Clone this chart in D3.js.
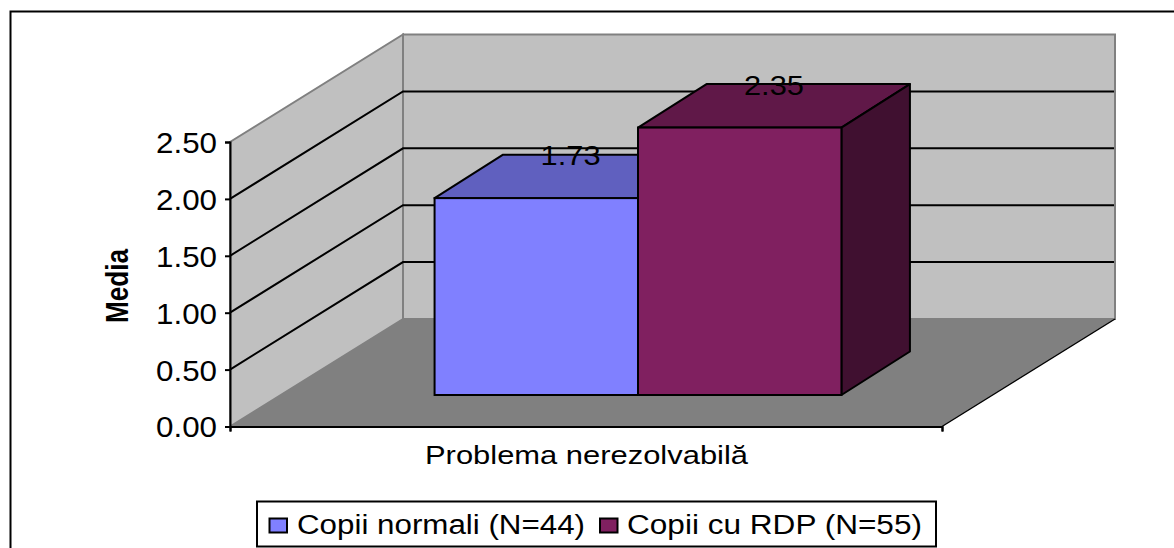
<!DOCTYPE html>
<html>
<head>
<meta charset="utf-8">
<title>Problema nerezolvabilă</title>
<script src="https://cdn.jsdelivr.net/npm/d3@7"></script>
<style>
  html, body { margin: 0; padding: 0; background: #fff; overflow: hidden; }
  svg { display: block; }
  text { font-family: "Liberation Sans", Arial, sans-serif; fill: #000; }
</style>
</head>
<body>
<svg id="chart" width="1174" height="548"></svg>
<script>
const categories = ["Problema nerezolvabilă"];
const seriesNames = ["Copii normali (N=44)", "Copii cu RDP (N=55)"];
const seriesValues = [1.73, 2.35];
const yTicks = [0, 0.5, 1, 1.5, 2, 2.5];
const yTitle = "Media";

const FACE_COLORS = ["#8080ff", "#802060"];
const TOP_COLORS = ["#6060bf", "#601848"];
const SIDE_COLORS = ["#404080", "#401030"];

// full depth of the floor, and where the bars sit inside it
const DEPTH = { x: 173, y: -107.5 };
const BAR_SHIFT = { x: 52, y: -31.5 };
const BAR_DEPTH = { x: 68.5, y: -43.5 };

const svg = d3.select("#chart");

const y = d3.scaleLinear().domain([0, 2.5]).range([426.5, 142]);
const xCat = d3.scaleBand().domain(categories).range([230, 942]);
const xSeries = d3
  .scaleBand()
  .domain(seriesNames)
  .range(xCat.range())
  .paddingInner(0)
  .paddingOuter(0.75);

const line = d3.line();
const [x0, x1] = xCat.range();
const y0 = y(0);
const yTop = y(2.5);

// Chart frame, runs off the right and bottom of the picture
svg.append("rect")
  .attr("x", 10.5)
  .attr("y", 11.5)
  .attr("width", 1300)
  .attr("height", 700)
  .attr("fill", "none")
  .attr("stroke", "#000")
  .attr("stroke-width", 2);

// Walls
svg.append("path")
  .attr("d", line([[x0, y0], [x0, yTop], [x0 + DEPTH.x, yTop + DEPTH.y], [x0 + DEPTH.x, y0 + DEPTH.y]]) + "Z")
  .attr("fill", "#c0c0c0")
  .attr("stroke", "#808080")
  .attr("stroke-width", 2);

svg.append("path")
  .attr("d", line([[x0 + DEPTH.x, yTop + DEPTH.y], [x1 + DEPTH.x, yTop + DEPTH.y], [x1 + DEPTH.x, y0 + DEPTH.y], [x0 + DEPTH.x, y0 + DEPTH.y]]) + "Z")
  .attr("fill", "#c0c0c0")
  .attr("stroke", "#808080")
  .attr("stroke-width", 2);

// Floor
svg.append("path")
  .attr("d", line([[x0, y0], [x1, y0], [x1 + DEPTH.x, y0 + DEPTH.y], [x0 + DEPTH.x, y0 + DEPTH.y]]) + "Z")
  .attr("fill", "#808080");

svg.append("path")
  .attr("d", line([[x1, y0], [x1 + DEPTH.x, y0 + DEPTH.y]]))
  .attr("fill", "none")
  .attr("stroke", "#000")
  .attr("stroke-width", 1.4);

// Gridlines along the side wall and across the back wall
svg.append("g")
  .selectAll("path")
  .data(yTicks.filter((t) => t > 0 && t < 2.5))
  .join("path")
  .attr("d", (t) =>
    line([
      [x0, y(t)],
      [x0 + DEPTH.x, y(t) + DEPTH.y],
      [x1 + DEPTH.x - 1, y(t) + DEPTH.y],
    ])
  )
  .attr("fill", "none")
  .attr("stroke", "#000")
  .attr("stroke-width", 2);

// Bars
const bars = svg
  .append("g")
  .selectAll("g")
  .data(seriesValues.map((value, i) => ({ value, i, name: seriesNames[i] })))
  .join("g");

function barBox(d) {
  const left = xSeries(d.name) + BAR_SHIFT.x;
  const right = left + xSeries.bandwidth();
  const bottom = y0 + BAR_SHIFT.y;
  const top = bottom - (y0 - y(d.value));
  return { left, right, top, bottom };
}

bars.append("path")
  .attr("d", (d) => {
    const b = barBox(d);
    return line([[b.left, b.top], [b.left + BAR_DEPTH.x, b.top + BAR_DEPTH.y], [b.right + BAR_DEPTH.x, b.top + BAR_DEPTH.y], [b.right, b.top]]) + "Z";
  })
  .attr("fill", (d) => TOP_COLORS[d.i])
  .attr("stroke", "#000")
  .attr("stroke-width", 2)
  .attr("stroke-linejoin", "round");

bars.append("path")
  .attr("d", (d) => {
    const b = barBox(d);
    return line([[b.right, b.top], [b.right + BAR_DEPTH.x, b.top + BAR_DEPTH.y], [b.right + BAR_DEPTH.x, b.bottom + BAR_DEPTH.y], [b.right, b.bottom]]) + "Z";
  })
  .attr("fill", (d) => SIDE_COLORS[d.i])
  .attr("stroke", "#000")
  .attr("stroke-width", 2)
  .attr("stroke-linejoin", "round");

bars.append("rect")
  .attr("x", (d) => barBox(d).left)
  .attr("y", (d) => barBox(d).top)
  .attr("width", xSeries.bandwidth())
  .attr("height", (d) => barBox(d).bottom - barBox(d).top)
  .attr("fill", (d) => FACE_COLORS[d.i])
  .attr("stroke", "#000")
  .attr("stroke-width", 2);

// Value labels sit on the top face
bars.append("text")
  .attr("x", (d) => barBox(d).left + xSeries.bandwidth() / 2 + BAR_DEPTH.x * 0.5)
  .attr("y", (d) => barBox(d).top + BAR_DEPTH.y + 10.5)
  .attr("text-anchor", "middle")
  .attr("font-size", 28)
  .attr("textLength", 60)
  .attr("lengthAdjust", "spacingAndGlyphs")
  .text((d) => d.value.toFixed(2));

// Y axis
const yAxis = svg
  .append("g")
  .attr("transform", `translate(${x0},0)`)
  .call(d3.axisLeft(y).tickValues(yTicks).tickFormat(d3.format(".2f")).tickSize(5).tickPadding(8));

yAxis.selectAll("path, line").attr("stroke", "#000").attr("stroke-width", 2);
yAxis.selectAll("text")
  .attr("font-size", 29)
  .attr("dy", "0.36em")
  .attr("textLength", 61)
  .attr("lengthAdjust", "spacingAndGlyphs")
  .style("font-family", '"Liberation Sans", Arial, sans-serif');

// X axis
const xAxis = svg
  .append("g")
  .attr("transform", `translate(0,${y0})`)
  .call(d3.axisBottom(d3.scaleLinear().domain([0, 1]).range(xCat.range())).tickValues([0, 1]).tickFormat("").tickSize(5));

xAxis.selectAll("path, line").attr("stroke", "#000").attr("stroke-width", 2);

svg.append("text")
  .attr("x", xCat(categories[0]) + xCat.bandwidth() / 2 + 0.5)
  .attr("y", 464)
  .attr("text-anchor", "middle")
  .attr("font-size", 26.5)
  .attr("textLength", 323)
  .attr("lengthAdjust", "spacingAndGlyphs")
  .text(categories[0]);

// Y title
svg.append("text")
  .attr("transform", "translate(128,286) rotate(-90)")
  .attr("text-anchor", "middle")
  .attr("font-size", 32)
  .attr("font-weight", "bold")
  .attr("textLength", 74)
  .attr("lengthAdjust", "spacingAndGlyphs")
  .text(yTitle);

// Legend
const legend = svg.append("g");

legend.append("rect")
  .attr("x", 257)
  .attr("y", 501.5)
  .attr("width", 679)
  .attr("height", 45)
  .attr("fill", "#fff")
  .attr("stroke", "#000")
  .attr("stroke-width", 2);

const legendItems = [
  { swatch: 269.5, text: 297, length: 288 },
  { swatch: 600, text: 627, length: 295 },
];

legendItems.forEach((item, i) => {
  legend.append("rect")
    .attr("x", item.swatch)
    .attr("y", 518.5)
    .attr("width", 17.5)
    .attr("height", 14)
    .attr("fill", FACE_COLORS[i])
    .attr("stroke", "#000")
    .attr("stroke-width", 2);

  legend.append("text")
    .attr("x", item.text)
    .attr("y", 533.5)
    .attr("font-size", 27)
    .attr("textLength", item.length)
    .attr("lengthAdjust", "spacingAndGlyphs")
    .text(seriesNames[i]);
});
</script>
</body>
</html>
